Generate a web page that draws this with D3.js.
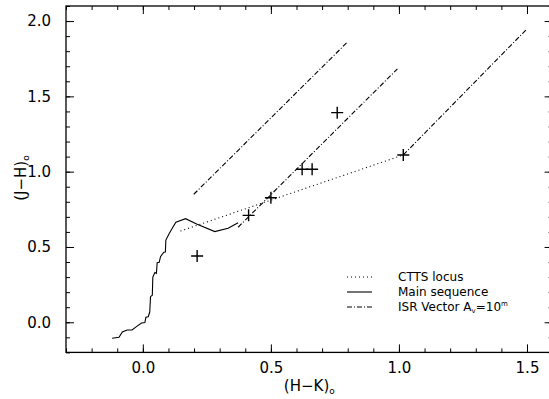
<!DOCTYPE html>
<html>
<head>
<meta charset="utf-8">
<script src="https://cdn.jsdelivr.net/npm/d3@7"></script>
<style>
  body { margin: 0; background: #fff; }
  svg { display: block; font-family: "DejaVu Sans", sans-serif; }
  .ax line, .ax path { stroke: #000; }
  .ax text { font-size: 15px; fill: #000; font-family: "DejaVu Sans", sans-serif; }
</style>
</head>
<body>
<div id="chart"></div>
<script>
// main sequence (H-K, J-H)
var msHK = [-0.12, -0.093, -0.080, -0.061, -0.042, -0.025, -0.005, 0.008, 0.012, 0.021, 0.027, 0.030, 0.037, 0.039, 0.047, 0.053, 0.056, 0.064, 0.069, 0.082, 0.088, 0.090, 0.103, 0.116, 0.129, 0.167, 0.210, 0.281, 0.333, 0.372];
var msJH = [-0.106, -0.10, -0.064, -0.051, -0.051, -0.029, -0.005, -0.002, 0.033, 0.037, 0.068, 0.17, 0.18, 0.30, 0.33, 0.325, 0.396, 0.398, 0.436, 0.465, 0.467, 0.546, 0.59, 0.628, 0.664, 0.688, 0.653, 0.602, 0.624, 0.661];

// CTTS locus end points
var cttsHK = [0.147, 1.017];
var cttsJH = [0.606, 1.111];

// reddening vectors: start and end
var isrHK = [[0.199, 0.798], [0.372, 0.994], [1.017, 1.496]];
var isrJH = [[0.85, 1.859], [0.631, 1.682], [1.111, 1.941]];

// stars
var starHK = [0.212, 0.413, 0.50, 0.622, 0.661, 0.759, 1.017];
var starJH = [0.44, 0.71, 0.827, 1.016, 1.016, 1.392, 1.111];

var xTicks = [0.0, 0.5, 1.0, 1.5];
var yTicks = [0.0, 0.5, 1.0, 1.5, 2.0];

(function() {
    var width = 549, height = 399;
    var mLeft = 66, mRight = 552.6, mTop = 6, mBottom = 352.4;

    var svg = d3.select('#chart').append('svg').attr('width', width).attr('height', height);

    var x = d3.scaleLinear().domain([-0.3, 1.6]).range([mLeft, mRight]);
    var y = d3.scaleLinear().domain([-0.2, 2.1]).range([mBottom, mTop]);

    var minorX = d3.range(-0.3, 1.6001, 0.1).map(function(v) { return +v.toFixed(1); });
    var minorY = d3.range(-0.2, 2.1001, 0.1).map(function(v) { return +v.toFixed(1); });

    function fmt(d) { return d3.format('.1f')(d); }
    function noDomain(g) { g.select('.domain').remove(); }

    // frame
    svg.append('rect').attr('x', mLeft).attr('y', mTop).attr('width', mRight - mLeft).attr('height', mBottom - mTop)
        .attr('fill', 'none').attr('stroke', '#000').attr('stroke-width', 1.3);

    // bottom axis
    svg.append('g').attr('class', 'ax').attr('transform', 'translate(0,' + mBottom + ')')
        .call(d3.axisTop(x).tickValues(minorX).tickSize(4).tickFormat('')).call(noDomain);
    svg.append('g').attr('class', 'ax').attr('transform', 'translate(0,' + mBottom + ')')
        .call(d3.axisTop(x).tickValues(xTicks).tickSize(8).tickFormat('')).call(noDomain);
    svg.append('g').attr('class', 'ax').attr('transform', 'translate(0,' + mBottom + ')')
        .call(d3.axisBottom(x).tickValues(xTicks).tickSize(0).tickPadding(10).tickFormat(fmt)).call(noDomain);

    // top axis
    svg.append('g').attr('class', 'ax').attr('transform', 'translate(0,' + mTop + ')')
        .call(d3.axisBottom(x).tickValues(minorX).tickSize(4).tickFormat('')).call(noDomain);
    svg.append('g').attr('class', 'ax').attr('transform', 'translate(0,' + mTop + ')')
        .call(d3.axisBottom(x).tickValues(xTicks).tickSize(8).tickFormat('')).call(noDomain);

    // left axis
    svg.append('g').attr('class', 'ax').attr('transform', 'translate(' + mLeft + ',0)')
        .call(d3.axisRight(y).tickValues(minorY).tickSize(4).tickFormat('')).call(noDomain);
    svg.append('g').attr('class', 'ax').attr('transform', 'translate(' + mLeft + ',0)')
        .call(d3.axisRight(y).tickValues(yTicks).tickSize(8).tickFormat('')).call(noDomain);
    svg.append('g').attr('class', 'ax').attr('transform', 'translate(' + mLeft + ',0)')
        .call(d3.axisLeft(y).tickValues(yTicks).tickSize(0).tickPadding(15).tickFormat(fmt)).call(noDomain);

    // right axis
    svg.append('g').attr('class', 'ax').attr('transform', 'translate(' + mRight + ',0)')
        .call(d3.axisLeft(y).tickValues(minorY).tickSize(4).tickFormat('')).call(noDomain);
    svg.append('g').attr('class', 'ax').attr('transform', 'translate(' + mRight + ',0)')
        .call(d3.axisLeft(y).tickValues(yTicks).tickSize(8).tickFormat('')).call(noDomain);

    // axis titles
    var xt = svg.append('text').attr('x', (mLeft + mRight) / 2).attr('y', 391).attr('text-anchor', 'middle')
        .attr('font-size', 15);
    xt.append('tspan').text('(H\u2212K)');
    xt.append('tspan').attr('font-size', 9).attr('dy', 3).text('o');

    var yt = svg.append('text').attr('transform', 'translate(26,178) rotate(-90)')
        .attr('text-anchor', 'middle').attr('font-size', 15);
    yt.append('tspan').text('(J\u2212H)');
    yt.append('tspan').attr('font-size', 9).attr('dy', 3).text('o');

    var line = d3.line().x(function(d) { return x(d[0]); }).y(function(d) { return y(d[1]); });

    // main sequence
    svg.append('path').datum(d3.zip(msHK, msJH)).attr('d', line)
        .attr('fill', 'none').attr('stroke', '#000').attr('stroke-width', 1.1);

    // CTTS locus
    svg.append('path').datum(d3.zip(cttsHK, cttsJH)).attr('d', line)
        .attr('fill', 'none').attr('stroke', '#000').attr('stroke-width', 1.1).attr('stroke-dasharray', '1,3');

    // ISR vectors
    isrHK.forEach(function(hk, i) {
        svg.append('path').datum(d3.zip(hk, isrJH[i])).attr('d', line)
            .attr('fill', 'none').attr('stroke', '#000').attr('stroke-width', 1.1).attr('stroke-dasharray', '5,2,1,2');
    });

    // stars
    var s = 6;
    svg.append('g').selectAll('path').data(d3.zip(starHK, starJH)).join('path')
        .attr('d', function(d) {
            var px = x(d[0]), py = y(d[1]);
            return 'M' + (px - s) + ',' + py + 'H' + (px + s) + 'M' + px + ',' + (py - s) + 'V' + (py + s);
        })
        .attr('stroke', '#000').attr('stroke-width', 1.4);

    // legend
    var legX1 = 347, legX2 = 372, legTx = 398;
    var legRows = [
        { y: 277, dash: '1,3', label: 'CTTS locus' },
        { y: 292, dash: null, label: 'Main sequence' },
        { y: 307, dash: '5,2,1,2', label: 'ISR Vector' }
    ];
    legRows.forEach(function(r, i) {
        svg.append('line').attr('x1', legX1).attr('x2', legX2).attr('y1', r.y).attr('y2', r.y)
            .attr('stroke', '#000').attr('stroke-width', 1.1).attr('stroke-dasharray', r.dash);
        var t = svg.append('text').attr('x', legTx).attr('y', r.y + 4).attr('font-size', 12);
        t.append('tspan').text(r.label);
        if (i === 2) {
            t.append('tspan').text(' A');
            t.append('tspan').attr('font-size', 7).attr('dy', 2).text('v');
            t.append('tspan').attr('dy', -2).text('=10');
            t.append('tspan').attr('font-size', 7).attr('dy', -5).text('m');
        }
    });
})();
</script>
</body>
</html>
